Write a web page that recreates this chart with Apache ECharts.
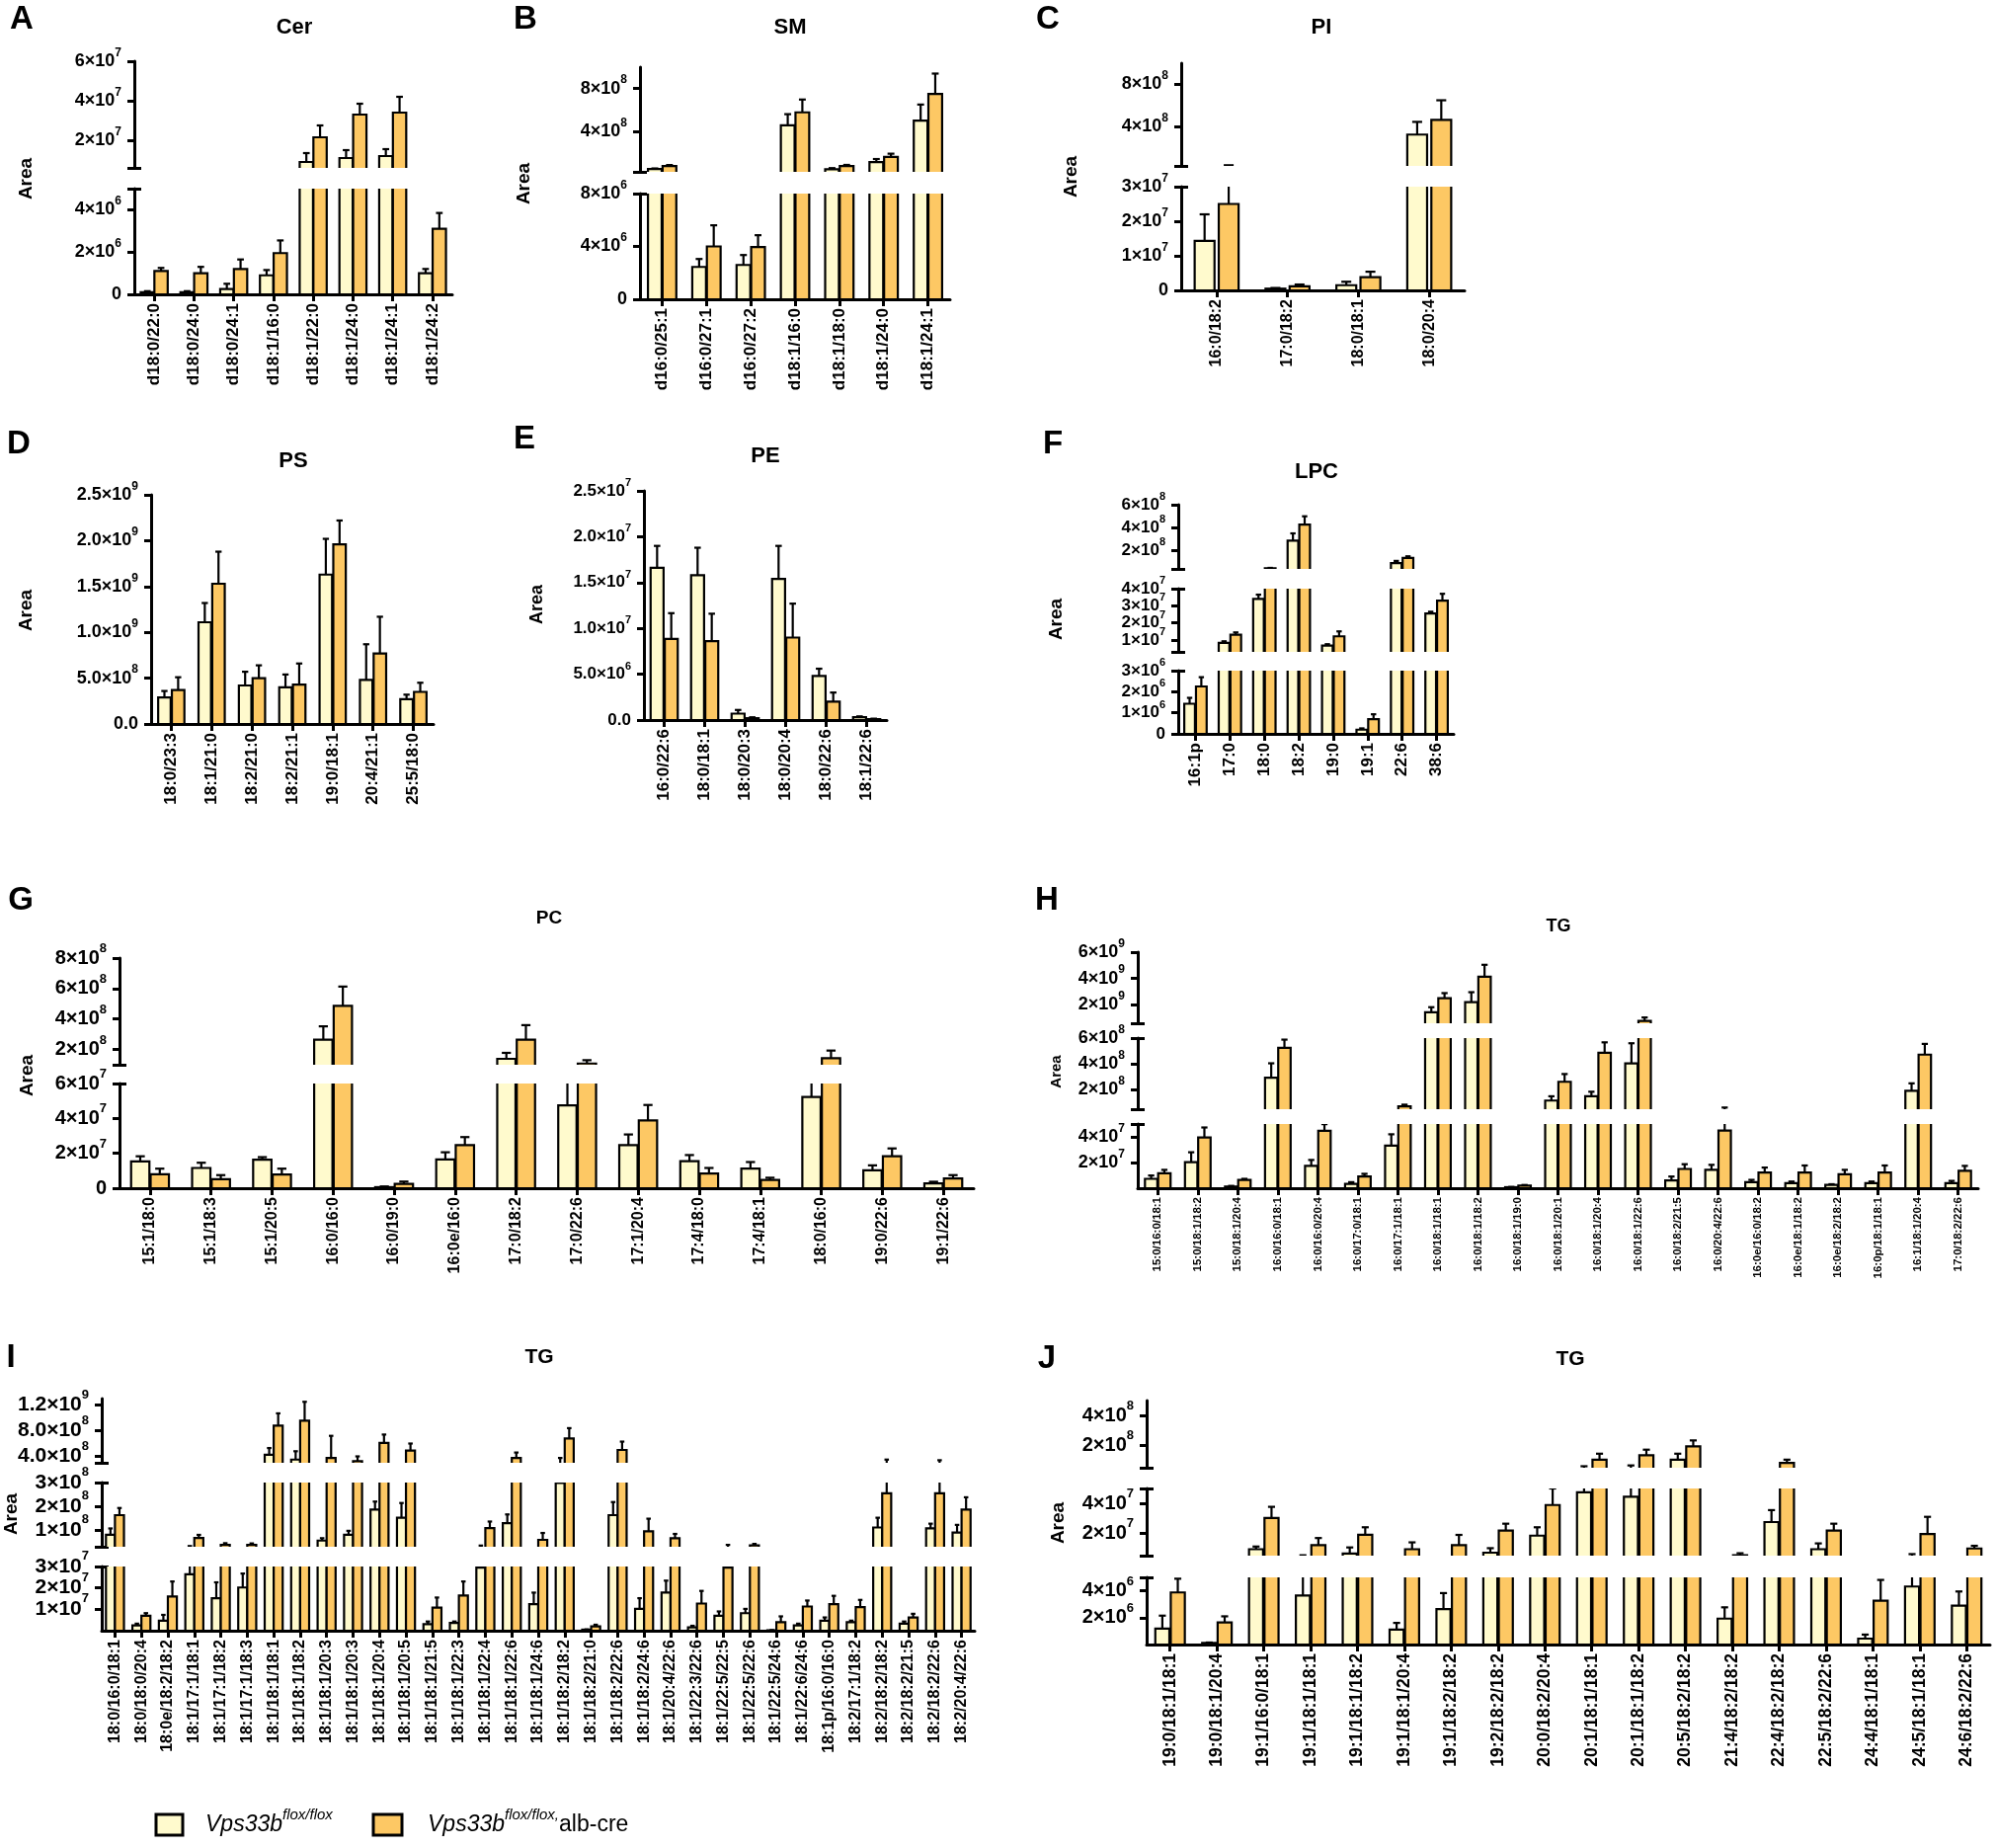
<!DOCTYPE html>
<html>
<head>
<meta charset="utf-8">
<script src="https://cdn.jsdelivr.net/npm/echarts@6/dist/echarts.min.js"></script>
<style>
  html, body { margin: 0; background: #fff; }
  #fig { width: 2021px; height: 1871px; }
</style>
</head>
<body>
<div id="fig"></div>
<script>
// ---------------- data (mean and SD per group) ----------------
// A  Cer
var cerCats = ['d18:0/22:0', 'd18:0/24:0', 'd18:0/24:1', 'd18:1/16:0', 'd18:1/22:0', 'd18:1/24:0', 'd18:1/24:1', 'd18:1/24:2'];
var cerCtrl = [1.0e5, 1.0e5, 2.5e5, 9.0e5, 9.0e6, 1.1e7, 1.2e7, 1.0e6];
var cerCtrlSd = [5e4, 5e4, 2.5e5, 2.5e5, 4.5e6, 4.0e6, 3.5e6, 2.0e5];
var cerKo = [1.1e6, 1.0e6, 1.2e6, 1.95e6, 2.15e7, 3.3e7, 3.4e7, 3.1e6];
var cerKoSd = [1.5e5, 3.0e5, 4.5e5, 6.0e5, 6.0e6, 5.5e6, 8.0e6, 7.5e5];
var cerTicks = [[2e7, 4e7, 6e7], [0, 2e6, 4e6]];

// B  SM
var smCats = ['d16:0/25:1', 'd16:0/27:1', 'd16:0/27:2', 'd18:1/16:0', 'd18:1/18:0', 'd18:1/24:0', 'd18:1/24:1'];
var smCtrl = [4.7e7, 2.45e6, 2.6e6, 4.56e8, 4.5e7, 1.12e8, 5.0e8];
var smCtrlSd = [5e6, 6e5, 7.5e5, 1.04e8, 1.0e7, 2.8e7, 1.5e8];
var smKo = [7.4e7, 4.0e6, 3.95e6, 5.77e8, 7.5e7, 1.6e8, 7.5e8];
var smKoSd = [1.0e7, 1.6e6, 9e5, 1.2e8, 1.0e7, 3.0e7, 1.9e8];
var smTicks = [[4e8, 8e8], [0, 4e6, 8e6]];

// C  PI
var piCats = ['16:0/18:2', '17:0/18:2', '18:0/18:1', '18:0/20:4'];
var piCtrl = [1.43e7, 5e5, 1.5e6, 3.26e8];
var piCtrlSd = [7.7e6, 2e5, 1.0e6, 1.2e8];
var piKo = [2.5e7, 1.2e6, 3.8e6, 4.65e8];
var piKoSd = [1.15e7, 5e5, 1.6e6, 1.85e8];
var piTicks = [[4e8, 8e8], [0, 1e7, 2e7, 3e7]];

// D  PS
var psCats = ['18:0/23:3', '18:1/21:0', '18:2/21:0', '18:2/21:1', '19:0/18:1', '20:4/21:1', '25:5/18:0'];
var psCtrl = [2.9e8, 1.11e9, 4.2e8, 4.0e8, 1.63e9, 4.8e8, 2.7e8];
var psCtrlSd = [7e7, 2.1e8, 1.5e8, 1.4e8, 3.9e8, 3.9e8, 5e7];
var psKo = [3.7e8, 1.53e9, 5.0e8, 4.3e8, 1.96e9, 7.7e8, 3.5e8];
var psKoSd = [1.4e8, 3.5e8, 1.4e8, 2.3e8, 2.6e8, 4.0e8, 1.0e8];
var psTicks = [[0, 5e8, 1e9, 1.5e9, 2e9, 2.5e9]];

// E  PE
var peCats = ['16:0/22:6', '18:0/18:1', '18:0/20:3', '18:0/20:4', '18:0/22:6', '18:1/22:6'];
var peCtrl = [1.66e7, 1.58e7, 7e5, 1.54e7, 4.8e6, 3e5];
var peCtrlSd = [2.4e6, 3.0e6, 4e5, 3.6e6, 8e5, 1e5];
var peKo = [8.86e6, 8.6e6, 2e5, 9.0e6, 2.0e6, 1e5];
var peKoSd = [2.8e6, 3.0e6, 1e5, 3.7e6, 1.0e6, 5e4];
var peTicks = [[0, 5e6, 1e7, 1.5e7, 2e7, 2.5e7]];

// F  LPC
var lpcCats = ['16:1p', '17:0', '18:0', '18:2', '19:0', '19:1', '22:6', '38:6'];
var lpcCtrl = [1.43e6, 8.3e6, 3.4e7, 2.86e8, 6.7e6, 2.0e5, 9.0e7, 2.55e7];
var lpcCtrlSd = [2.8e5, 9e5, 2.5e6, 6.4e7, 8e5, 6e4, 2.0e7, 1.0e6];
var lpcKo = [2.25e6, 1.31e7, 4.6e7, 4.27e8, 1.21e7, 7.0e5, 1.35e8, 3.3e7];
var lpcKoSd = [4.4e5, 1.3e6, 3.0e6, 7.2e7, 2.9e6, 2.3e5, 1.5e7, 4.0e6];
var lpcTicks = [[2e8, 4e8, 6e8], [1e7, 2e7, 3e7, 4e7], [0, 1e6, 2e6, 3e6]];

// G  PC
var pcCats = ['15:1/18:0', '15:1/18:3', '15:1/20:5', '16:0/16:0', '16:0/19:0', '16:0e/16:0', '17:0/18:2',
  '17:0/22:6', '17:1/20:4', '17:4/18:0', '17:4/18:1', '18:0/16:0', '19:0/22:6', '19:1/22:6'];
var pcCtrl = [1.53e7, 1.16e7, 1.63e7, 2.65e8, 6e5, 1.65e7, 1.39e8, 4.75e7, 2.47e7, 1.55e7, 1.12e7, 5.23e7, 1.03e7, 2.8e6];
var pcCtrlSd = [3.0e6, 3.0e6, 1.5e6, 8.7e7, 4e5, 4.1e6, 3.9e7, 1.6e7, 6.1e6, 3.5e6, 3.8e6, 1.0e7, 2.8e6, 9e5];
var pcKo = [8.0e6, 5.2e6, 7.9e6, 4.87e8, 2.5e6, 2.47e7, 2.65e8, 1.08e8, 3.89e7, 8.4e6, 4.7e6, 1.43e8, 1.83e7, 5.6e6];
var pcKoSd = [3.2e6, 2.3e6, 3.3e6, 1.26e8, 1.3e6, 4.6e6, 9.5e7, 2.2e7, 8.8e6, 3.2e6, 1.3e6, 5.0e7, 4.5e6, 1.9e6];
var pcTicks = [[2e8, 4e8, 6e8, 8e8], [0, 2e7, 4e7, 6e7]];

// H  TG
var tgHCats = ['15:0/16:0/18:1', '15:0/18:1/18:2', '15:0/18:1/20:4', '16:0/16:0/18:1', '16:0/16:0/20:4',
  '16:0/17:0/18:1', '16:0/17:1/18:1', '16:0/18:1/18:1', '16:0/18:1/18:2', '16:0/18:1/19:0', '16:0/18:1/20:1',
  '16:0/18:1/20:4', '16:0/18:1/22:6', '16:0/18:2/21:5', '16:0/20:4/22:6', '16:0e/16:0/18:2', '16:0e/18:1/18:2',
  '16:0e/18:2/18:2', '16:0p/18:1/18:1', '16:1/18:1/20:4', '17:0/18:2/22:6'];
var tgHCtrl = [7.3e6, 2.03e7, 1.3e6, 2.93e8, 1.74e7, 3.4e6, 3.32e7, 1.44e9, 2.2e9, 8e5, 1.17e8,
  1.5e8, 4.05e8, 6.0e6, 1.43e7, 4.7e6, 3.9e6, 2.6e6, 3.9e6, 1.92e8, 3.9e6];
var tgHCtrlSd = [2.6e6, 7.7e6, 5e5, 1.12e8, 4.6e6, 1.3e6, 8.8e6, 3.8e8, 7.6e8, 2e5, 3.3e7,
  3.5e7, 1.55e8, 3.1e6, 3.9e6, 1.8e6, 1.3e6, 5e5, 1.3e6, 5.8e7, 1.8e6];
var tgHKo = [1.17e7, 3.95e7, 6.5e6, 5.25e8, 4.47e7, 9.1e6, 7.2e7, 2.5e9, 4.13e9, 2.0e6, 2.62e8,
  4.87e8, 7.8e8, 1.5e7, 4.49e7, 1.22e7, 1.22e7, 1.09e7, 1.22e7, 4.72e8, 1.35e7];
var tgHKoSd = [2.6e6, 7.8e6, 8e5, 6.3e7, 5.2e6, 2.1e6, 1.3e7, 3.9e8, 9.1e8, 5e5, 6.0e7,
  8.0e7, 2.6e8, 3.7e6, 1.8e7, 3.9e6, 5.5e6, 3.4e6, 5.5e6, 8.3e7, 3.9e6];
var tgHTicks = [[2e9, 4e9, 6e9], [2e8, 4e8, 6e8], [2e7, 4e7]];

// I  TG
var tgICats = ['18:0/16:0/18:1', '18:0/18:0/20:4', '18:0e/18:2/18:2', '18:1/17:1/18:1', '18:1/17:1/18:2',
  '18:1/17:1/18:3', '18:1/18:1/18:1', '18:1/18:1/18:2', '18:1/18:1/20:3', '18:1/18:1/20:3', '18:1/18:1/20:4',
  '18:1/18:1/20:5', '18:1/18:1/21:5', '18:1/18:1/22:3', '18:1/18:1/22:4', '18:1/18:1/22:6', '18:1/18:1/24:6',
  '18:1/18:2/18:2', '18:1/18:2/21:0', '18:1/18:2/22:6', '18:1/18:2/24:6', '18:1/20:4/22:6', '18:1/22:3/22:6',
  '18:1/22:5/22:5', '18:1/22:5/22:6', '18:1/22:5/24:6', '18:1/22:6/24:6', '18:1p/16:0/16:0', '18:2/17:1/18:2',
  '18:2/18:2/18:2', '18:2/18:2/21:5', '18:2/18:2/22:6', '18:2/20:4/22:6'];
var tgICtrl = [8.0e7, 2.5e6, 4.7e6, 2.64e7, 1.52e7, 2.02e7, 4.25e8, 3.5e8, 5.6e7, 8.0e7, 1.86e8,
  1.52e8, 3.1e6, 3.6e6, 2.95e7, 1.29e8, 1.24e7, 2.98e8, 5e5, 1.63e8, 1.02e7, 1.78e7,
  1.6e6, 7.0e6, 8.2e6, 2e5, 2.5e6, 4.7e6, 4.0e6, 1.11e8, 3.3e6, 1.07e8, 9.0e7];
var tgICtrlSd = [2.7e7, 8e5, 2.7e6, 6.6e6, 7.4e6, 6.5e6, 1.05e8, 1.3e8, 1.0e7, 1.7e7, 3.4e7,
  6.2e7, 1.2e6, 7e5, 5.5e6, 3.7e7, 5.4e6, 7.7e7, 1e5, 5.5e7, 5.0e6, 5.6e6,
  7e5, 2.0e6, 2.0e6, 1e5, 8e5, 1.5e6, 7e5, 4.1e7, 1.0e6, 2.0e7, 3.2e7];
var tgIKo = [1.63e8, 7.0e6, 1.6e7, 6.7e7, 3.8e7, 3.8e7, 8.8e8, 9.55e8, 3.75e8, 3.25e8, 6.1e8,
  4.9e8, 1.08e7, 1.64e7, 1.08e8, 3.75e8, 5.9e7, 6.8e8, 2.0e6, 5.0e8, 9.5e7, 6.6e7,
  1.27e7, 2.95e7, 3.6e7, 4.0e6, 1.13e7, 1.24e7, 1.1e7, 2.55e8, 6.2e6, 2.55e8, 1.86e8];
var tgIKoSd = [3.0e7, 1.2e6, 7.0e6, 1.3e7, 7.0e6, 6.0e6, 1.9e8, 2.95e8, 3.45e8, 7.5e7, 1.3e8,
  1.1e8, 4.7e6, 6.6e6, 2.8e7, 8.5e7, 2.9e7, 1.6e8, 8e5, 1.3e8, 5.3e7, 1.8e7,
  5.9e6, 8.5e6, 6.0e6, 2.7e6, 2.8e6, 3.9e6, 3.4e6, 9.5e7, 1.7e6, 8.5e7, 5.2e7];
var tgITicks = [[4e8, 8e8, 1.2e9], [1e8, 2e8, 3e8], [1e7, 2e7, 3e7]];

// J  TG
var tgJCats = ['19:0/18:1/18:1', '19:0/18:1/20:4', '19:1/16:0/18:1', '19:1/18:1/18:1', '19:1/18:1/18:2',
  '19:1/18:1/20:4', '19:1/18:2/18:2', '19:2/18:2/18:2', '20:0/18:2/20:4', '20:1/18:1/18:1', '20:1/18:1/18:2',
  '20:5/18:2/18:2', '21:4/18:2/18:2', '22:4/18:2/18:2', '22:5/18:2/22:6', '24:4/18:1/18:1', '24:5/18:1/18:1',
  '24:6/18:2/22:6'];
var tgJCtrl = [1.19e6, 1.2e5, 9.3e6, 3.65e6, 6.4e6, 1.11e6, 2.64e6, 7.0e6, 1.84e7, 4.75e7, 4.45e7,
  1.04e8, 1.93e6, 2.75e7, 9.3e6, 4.4e5, 4.32e6, 2.89e6];
var tgJCtrlSd = [9.6e5, 3e4, 1.8e6, 1.6e6, 4.1e6, 5e5, 1.19e6, 3.0e6, 5.6e6, 1.25e7, 2.1e7,
  4.0e7, 8.4e5, 8.0e6, 3.9e6, 3.0e5, 1.7e6, 1.06e6];
var tgJKo = [3.88e6, 1.65e6, 3.02e7, 1.2e7, 1.9e7, 9.3e6, 1.2e7, 2.18e7, 3.89e7, 1.04e8, 1.33e8,
  1.93e8, 5.2e6, 8.2e7, 2.18e7, 3.26e6, 1.95e7, 9.8e6];
var tgJKoSd = [1.02e6, 4.5e5, 7.5e6, 4.8e6, 5.0e6, 4.6e6, 6.9e6, 4.6e6, 1.11e7, 4.0e7, 3.8e7,
  4.0e7, 1.4e6, 2.2e7, 4.6e6, 1.55e6, 1.15e7, 1.8e6];
var tgJTicks = [[2e8, 4e8], [2e7, 4e7], [2e6, 4e6]];

// ---------------- layout ----------------
var FONT = '"Liberation Sans", Arial, Helvetica, sans-serif';
var LIGHT = '#FFFACD';
var ORANGE = '#FDC864';

// seg: [min, max, top px, bottom px, decimals]
var panels = [
  { cats: cerCats, ctrl: cerCtrl, ctrlSd: cerCtrlSd, ko: cerKo, koSd: cerKoSd, ticks: cerTicks,
    left: 136, right: 458, frac: 0.335, gap: 0.01, tickFs: 18, catFs: 17,
    segs: [[6e6, 6e7, 62, 170, 0], [0, 5e6, 191, 298, 0]],
    letter: ['A', 22, 20], title: ['Cer', 298, 28, 22], area: [27, 181, 19] },
  { cats: smCats, ctrl: smCtrl, ctrlSd: smCtrlSd, ko: smKo, koSd: smKoSd, ticks: smTicks,
    left: 648, right: 962, frac: 0.31, gap: 0.02, tickFs: 18, catFs: 17,
    segs: [[2e7, 1e9, 68, 174, 0], [0, 8e6, 196, 303, 0]],
    letter: ['B', 532, 20], title: ['SM', 800, 28, 22], area: [531, 186, 19] },
  { cats: piCats, ctrl: piCtrl, ctrlSd: piCtrlSd, ko: piKo, koSd: piKoSd, ticks: piTicks,
    left: 1196, right: 1483, frac: 0.28, gap: 0.06, tickFs: 18, catFs: 16,
    segs: [[3e7, 1e9, 64, 168, 0], [0, 3e7, 189, 294, 0]],
    letter: ['C', 1061, 20], title: ['PI', 1338, 28, 22], area: [1085, 179, 19] },
  { cats: psCats, ctrl: psCtrl, ctrlSd: psCtrlSd, ko: psKo, koSd: psKoSd, ticks: psTicks,
    left: 153, right: 439, frac: 0.31, gap: 0.03, tickFs: 18, catFs: 17,
    segs: [[0, 2.5e9, 501, 733, 1]],
    letter: ['D', 19, 450], title: ['PS', 297, 467, 22], area: [27, 618, 19] },
  { cats: peCats, ctrl: peCtrl, ctrlSd: peCtrlSd, ko: peKo, koSd: peKoSd, ticks: peTicks,
    left: 652, right: 898, frac: 0.32, gap: 0.03, tickFs: 17, catFs: 17,
    segs: [[0, 2.5e7, 497, 729, 1]],
    letter: ['E', 531, 445], title: ['PE', 775, 462, 22], area: [544, 612, 18] },
  { cats: lpcCats, ctrl: lpcCtrl, ctrlSd: lpcCtrlSd, ko: lpcKo, koSd: lpcKoSd, ticks: lpcTicks,
    left: 1193, right: 1472, frac: 0.31, gap: 0.03, tickFs: 17, catFs: 17,
    segs: [[4e7, 6e8, 511, 576, 0], [3e6, 4e7, 596, 660, 0], [0, 3e6, 679, 743, 0]],
    letter: ['F', 1066, 450], title: ['LPC', 1333, 478, 22], area: [1070, 627, 19] },
  { cats: pcCats, ctrl: pcCtrl, ctrlSd: pcCtrlSd, ko: pcKo, koSd: pcKoSd, ticks: pcTicks,
    left: 121, right: 986, frac: 0.30, gap: 0.02, tickFs: 20, catFs: 16,
    segs: [[1e8, 8e8, 970, 1078, 0], [0, 6e7, 1097, 1203, 0]],
    letter: ['G', 21, 912], title: ['PC', 556, 930, 19], area: [28, 1089, 19] },
  { cats: tgHCats, ctrl: tgHCtrl, ctrlSd: tgHCtrlSd, ko: tgHKo, koSd: tgHKoSd, ticks: tgHTicks,
    left: 1152, right: 2003, frac: 0.31, gap: 0.02, tickFs: 18, catFs: 11.5,
    segs: [[6e8, 6e9, 964, 1036, 0], [5e7, 6e8, 1051, 1123, 0], [0, 5e7, 1138, 1203, 0]],
    letter: ['H', 1060, 912], title: ['TG', 1578, 938, 18], area: [1070, 1085, 15] },
  { cats: tgICats, ctrl: tgICtrl, ctrlSd: tgICtrlSd, ko: tgIKo, koSd: tgIKoSd, ticks: tgITicks,
    left: 103, right: 987, frac: 0.34, gap: 0.0, tickFs: 21, catFs: 16,
    segs: [[3e8, 1.3e9, 1416, 1481, 1], [3e7, 3e8, 1501, 1566, 0], [0, 3e7, 1586, 1651, 0]],
    letter: ['I', 11, 1375], title: ['TG', 546, 1374, 21], area: [12, 1533, 19] },
  { cats: tgJCats, ctrl: tgJCtrl, ctrlSd: tgJCtrlSd, ko: tgJKo, koSd: tgJKoSd, ticks: tgJTicks,
    left: 1161, right: 2015, frac: 0.30, gap: 0.03, tickFs: 20, catFs: 17.5,
    segs: [[5e7, 5e8, 1418, 1486, 0], [5e6, 5e7, 1507, 1575, 0], [0, 5e6, 1597, 1665, 0]],
    letter: ['J', 1060, 1376], title: ['TG', 1590, 1376, 21], area: [1072, 1542, 19] }
];

// ---------------- helpers ----------------
function sciLabel(dec) {
  return function (v) {
    if (v === 0) return '{b|' + (dec ? '0.0' : '0') + '}';
    var e = Math.floor(Math.log10(v) + 1e-9);
    var m = v / Math.pow(10, e);
    return '{b|' + (dec ? m.toFixed(dec) : String(Math.round(m))) + '×10}{s|' + e + '}';
  };
}

function supRich(fs) {
  var ss = Math.round(fs * 0.64);
  return {
    b: { fontFamily: FONT, fontWeight: 'bold', fontSize: fs, color: '#000', lineHeight: Math.round(fs * 1.6) },
    s: { fontFamily: FONT, fontWeight: 'bold', fontSize: ss, color: '#000', height: ss, lineHeight: ss, verticalAlign: 'top' }
  };
}

// bar + upward SD whisker; parts lying wholly under the segment floor are skipped
function barItem(side, fill, frac, gap, floor) {
  return function (params, api) {
    var i = api.value(0);
    var mean = api.value(1);
    var top = api.value(2);
    var band = api.size([1, 0])[0];
    var w = band * frac;
    var base = api.coord([i, 0]);
    var cx = base[0] + side * (w + band * gap) / 2;
    var yTop = api.coord([i, mean])[1];
    var yErr = api.coord([i, top])[1];
    var cap = Math.max(4, w * 0.5);
    var st = { stroke: '#000', lineWidth: 2.2 };
    var parts = [];
    if (mean > floor) {
      parts.push({ type: 'rect', shape: { x: cx - w / 2, y: yTop, width: w, height: base[1] - yTop },
        style: { fill: fill, stroke: '#000', lineWidth: 2.2 } });
    }
    if (top > floor && top > mean) {
      parts.push({ type: 'line', shape: { x1: cx, y1: yTop, x2: cx, y2: yErr }, style: st });
      parts.push({ type: 'line', shape: { x1: cx - cap / 2, y1: yErr, x2: cx + cap / 2, y2: yErr }, style: st });
    }
    return { type: 'group', children: parts };
  };
}

function groupData(cats, mean, sd) {
  return cats.map(function (c, i) { return [i, mean[i], mean[i] + sd[i]]; });
}

function txt(str, x, y, size, rot) {
  return {
    type: 'text', x: x, y: y, rotation: rot || 0, silent: true,
    style: { text: str, font: 'bold ' + size + 'px ' + FONT, fill: '#000', align: 'center', verticalAlign: 'middle' }
  };
}

// ---------------- build ----------------
var grids = [], xAxes = [], yAxes = [], series = [], graphics = [];
var axisLine = { show: true, lineStyle: { color: '#000', width: 3 } };
var tickLine = { color: '#000', width: 3 };

function labelCfg(values, p, s) {
  return {
    show: values.length > 0, customValues: values.length ? values : [s[0]],
    margin: 13, showMinLabel: true, showMaxLabel: true,
    formatter: sciLabel(s[4]), rich: supRich(p.tickFs)
  };
}

panels.forEach(function (p) {
  var n = p.segs.length;
  p.segs.forEach(function (s, k) {
    var g = grids.length;
    var last = k === n - 1;
    grids.push({ left: p.left, top: s[2], width: p.right - p.left, height: s[3] - s[2], outerBoundsMode: 'none' });

    xAxes.push({
      gridIndex: g, type: 'category', data: p.cats, show: last,
      axisLine: axisLine,
      axisTick: { show: true, alignWithLabel: true, interval: 0, length: 7, lineStyle: tickLine },
      axisLabel: { interval: 0, rotate: 90, margin: 9, color: '#000', fontFamily: FONT, fontWeight: 'bold', fontSize: p.catFs }
    });

    var edges = [];
    if (!last) edges.push(s[0]);
    if (k > 0) edges.push(s[1]);
    // tick labels alternate over two axes so close labels are never dropped as overlapping
    var even = p.ticks[k].filter(function (v, j) { return j % 2 === 0; });
    var odd = p.ticks[k].filter(function (v, j) { return j % 2 === 1; });
    var yi = yAxes.length;
    yAxes.push({
      gridIndex: g, type: 'value', min: s[0], max: s[1], position: 'left',
      axisLine: axisLine, splitLine: { show: false },
      axisTick: { show: true, length: 7, lineStyle: tickLine, customValues: p.ticks[k].concat(edges) },
      axisLabel: labelCfg(even, p, s)
    });
    yAxes.push({
      gridIndex: g, type: 'value', min: s[0], max: s[1], position: 'left', offset: 0,
      axisLine: { show: false }, axisTick: { show: false }, splitLine: { show: false },
      axisLabel: labelCfg(odd, p, s)
    });
    // break marks cross the axis: inward ticks at the break edges
    yAxes.push({
      gridIndex: g, type: 'value', min: s[0], max: s[1], position: 'left', offset: 0,
      axisLine: { show: false }, axisLabel: { show: false }, splitLine: { show: false },
      axisTick: { show: edges.length > 0, inside: true, length: 7, lineStyle: tickLine, customValues: edges.length ? edges : [s[0]] }
    });

    series.push({
      type: 'custom', name: 'ctrl', xAxisIndex: g, yAxisIndex: yi, clip: true, silent: true,
      encode: { x: 0, y: 1 }, data: groupData(p.cats, p.ctrl, p.ctrlSd),
      renderItem: barItem(-1, LIGHT, p.frac, p.gap, s[0])
    });
    series.push({
      type: 'custom', name: 'ko', xAxisIndex: g, yAxisIndex: yi, clip: true, silent: true,
      encode: { x: 0, y: 1 }, data: groupData(p.cats, p.ko, p.koSd),
      renderItem: barItem(1, ORANGE, p.frac, p.gap, s[0])
    });
  });

  graphics.push(txt(p.letter[0], p.letter[1], p.letter[2], 33));
  graphics.push(txt(p.title[0], p.title[1], p.title[2], p.title[3]));
  graphics.push(txt('Area', p.area[0], p.area[1], p.area[2], Math.PI / 2));
});

// legend
var legRich = {
  i: { fontFamily: FONT, fontStyle: 'italic', fontSize: 23, lineHeight: 36, color: '#000' },
  s: { fontFamily: FONT, fontStyle: 'italic', fontSize: 15, height: 15, lineHeight: 15, verticalAlign: 'top', color: '#000' },
  n: { fontFamily: FONT, fontSize: 23, lineHeight: 36, color: '#000' }
};
graphics.push({ type: 'rect', shape: { x: 158, y: 1837, width: 27, height: 21 }, style: { fill: LIGHT, stroke: '#000', lineWidth: 3 } });
graphics.push({ type: 'rect', shape: { x: 378, y: 1837, width: 29, height: 21 }, style: { fill: ORANGE, stroke: '#000', lineWidth: 3 } });
graphics.push({ type: 'text', x: 208, y: 1848, style: { text: '{i|Vps33b}{s|flox/flox}', rich: legRich, align: 'left', verticalAlign: 'middle' } });
graphics.push({ type: 'text', x: 433, y: 1848, style: { text: '{i|Vps33b}{s|flox/flox,}{n|alb-cre}', rich: legRich, align: 'left', verticalAlign: 'middle' } });

var chart = echarts.init(document.getElementById('fig'), null, { renderer: 'canvas' });
chart.setOption({
  backgroundColor: '#fff',
  animation: false,
  grid: grids,
  xAxis: xAxes,
  yAxis: yAxes,
  series: series,
  graphic: graphics
});
</script>
</body>
</html>
